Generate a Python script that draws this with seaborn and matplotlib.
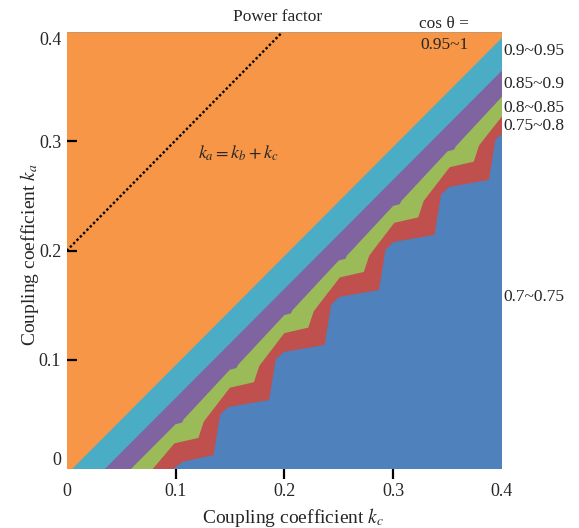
import matplotlib
matplotlib.use("Agg")
import matplotlib.pyplot as plt
import seaborn as sns

# band edges of the power factor map, (kc, ka) points
# 0.95 edge (orange / aqua)
kc_095 = [0.005, 0.400]
ka_095 = [0.000, 0.395]
# 0.9 edge (aqua / purple)
kc_090 = [0.035, 0.400]
ka_090 = [0.000, 0.365]
# 0.85 edge (purple / green)
kc_085 = [0.059, 0.100, 0.106, 0.1075, 0.150, 0.156, 0.1575, 0.200, 0.206, 0.2075,
          0.250, 0.256, 0.2575, 0.300, 0.306, 0.3075, 0.350, 0.356, 0.3575, 0.400]
ka_085 = [0.000, 0.041, 0.0425, 0.0455, 0.091, 0.0925, 0.0955, 0.141, 0.1425, 0.1455,
          0.191, 0.1925, 0.1955, 0.241, 0.2425, 0.2455, 0.291, 0.2925, 0.2955, 0.341]
# 0.8 edge (green / red)
kc_080 = [0.079, 0.099, 0.121, 0.126, 0.150, 0.172, 0.177, 0.200, 0.222, 0.227,
          0.251, 0.273, 0.278, 0.301, 0.323, 0.328, 0.352, 0.374, 0.379, 0.400]
ka_080 = [0.000, 0.0235, 0.0285, 0.0435, 0.0745, 0.0795, 0.0945, 0.1245, 0.1295, 0.1445,
          0.1755, 0.1805, 0.1955, 0.2255, 0.2305, 0.2455, 0.2765, 0.2815, 0.2965, 0.323]
# 0.75 edge (red / blue)
kc_075 = [0.0975, 0.107, 0.135, 0.141, 0.1485, 0.186, 0.192, 0.1995, 0.237, 0.243,
          0.2505, 0.287, 0.293, 0.3005, 0.338, 0.344, 0.3515, 0.388, 0.394, 0.400]
ka_075 = [0.000, 0.0067, 0.0128, 0.0498, 0.0568, 0.0632, 0.1002, 0.1072, 0.1136, 0.1506,
          0.1576, 0.164, 0.201, 0.208, 0.2144, 0.2514, 0.2584, 0.2648, 0.3018, 0.307]

# ka = kb + kc reference line
kc_line = [0.0, 0.198]
ka_line = [0.2, 0.4]

band_labels = ["0.7~0.75", "0.75~0.8", "0.8~0.85", "0.85~0.9", "0.9~0.95", "0.95~1"]
band_colors = ["#4F81BD", "#C0504D", "#9BBB59", "#8064A2", "#4BACC6", "#F79646"]
label_ka = [0.1575, 0.314, 0.331, 0.353, 0.383]

ticks = [0.0, 0.1, 0.2, 0.3, 0.4]
tick_labels = ["0", "0.1", "0.2", "0.3", "0.4"]

sns.set_style("white")
plt.rcParams["font.family"] = ["Liberation Serif", "DejaVu Serif"]
plt.rcParams["mathtext.fontset"] = "stix"

fig = plt.figure(figsize=(5.79, 5.28), dpi=100)
ax = fig.add_axes([0.1152, 0.1117, 0.7518, 0.8271])
ax.set_axisbelow(False)

# lowest band as background, then each band above its lower edge
ax.fill([0, 0.4, 0.4, 0], [0, 0, 0.4, 0.4], color=band_colors[0], lw=0)
edges = [(kc_075, ka_075), (kc_080, ka_080), (kc_085, ka_085),
         (kc_090, ka_090), (kc_095, ka_095)]
for (kx, ky), col in zip(edges, band_colors[1:]):
    px = [0.0] + kx + [0.4, 0.0]
    py = [0.0] + ky + [0.4, 0.4]
    ax.fill(px, py, color=col, lw=0)

sns.lineplot(x=kc_line, y=ka_line, color="black", linestyle=(0, (1, 1)),
             linewidth=1.7, ax=ax)

ax.set_xlim(0, 0.4)
ax.set_ylim(0, 0.4)
for s in ax.spines.values():
    s.set_visible(False)

ax.set_xticks(ticks)
ax.set_xticklabels(tick_labels, fontsize=13)
ax.set_yticks(ticks)
ax.set_yticklabels(tick_labels, fontsize=13)
ax.tick_params(axis="x", bottom=True, direction="out", length=7, width=1.6,
               color="black", pad=3)
ax.tick_params(axis="y", left=True, direction="in", length=7, width=1.6,
               color="black", pad=4)
for t in [ax.xaxis.get_major_ticks()[0], ax.xaxis.get_major_ticks()[-1],
          ax.yaxis.get_major_ticks()[0], ax.yaxis.get_major_ticks()[-1]]:
    t.tick1line.set_visible(False)
ylabs = ax.get_yticklabels()
ylabs[0].set_va("bottom")
ylabs[-1].set_va("top")

ax.set_xlabel("Coupling coefficient $k_c$", fontsize=14)
ax.xaxis.set_label_coords(0.52, -0.084)
ax.set_ylabel("Coupling coefficient $k_a$", fontsize=14)
ax.yaxis.set_label_coords(-0.06, 0.49)

ax.text(0.194, 0.414, "Power factor", fontsize=12.5, ha="center", va="center",
        clip_on=False)
ax.text(0.1574, 0.289, "$k_a = k_b + k_c$", fontsize=13, ha="center", va="center")
ax.text(0.347, 0.4075, "cos θ =", fontsize=12.5, ha="center", va="center", clip_on=False)
ax.text(0.347, 0.388, band_labels[-1], fontsize=12.5, ha="center", va="center")
for lab, y in zip(band_labels[:-1], label_ka):
    ax.text(0.401, y, lab, fontsize=12.5, ha="left", va="center", clip_on=False)

fig.savefig("out.png", dpi=100)
